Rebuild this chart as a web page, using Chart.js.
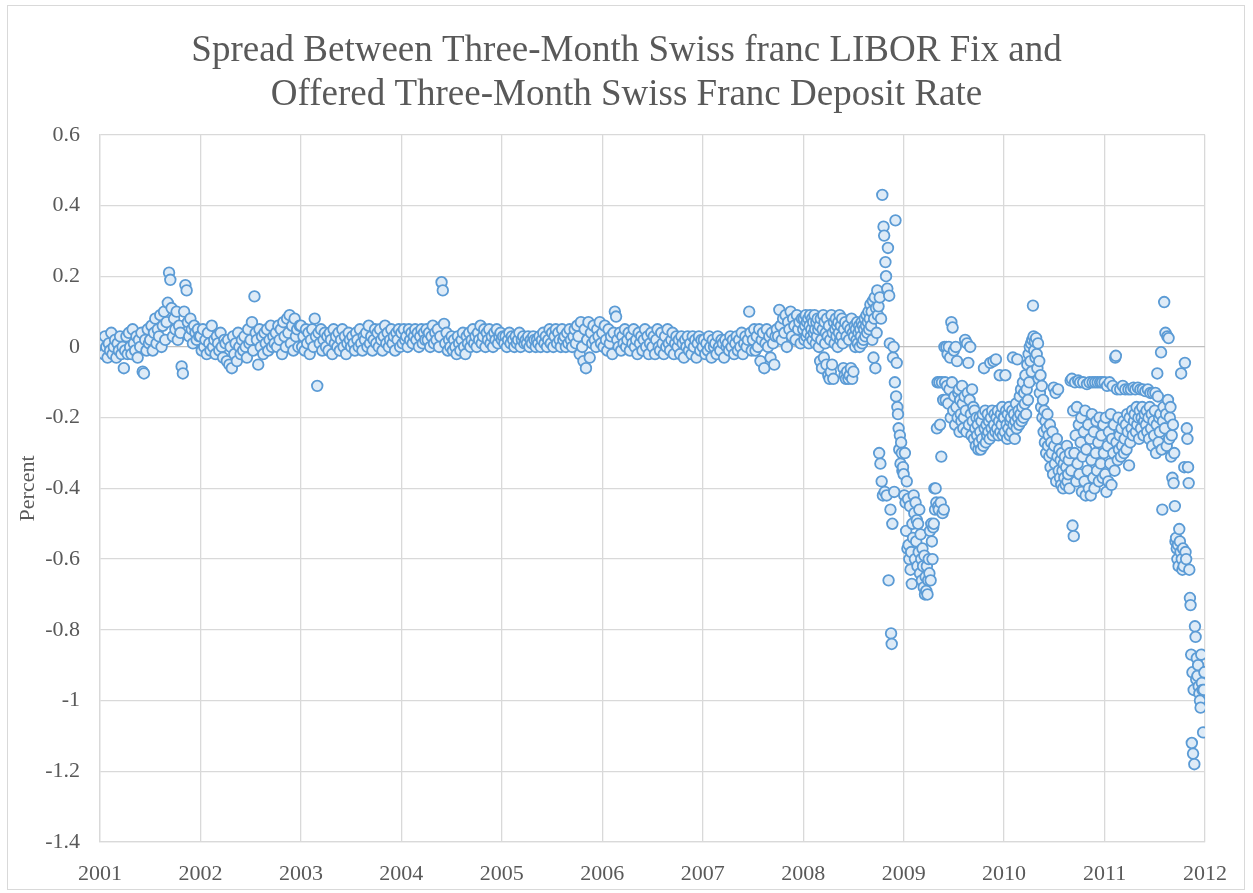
<!DOCTYPE html>
<html>
<head>
<meta charset="utf-8">
<title>Spread Between Three-Month Swiss franc LIBOR Fix and Offered Three-Month Swiss Franc Deposit Rate</title>
<script src="https://cdn.jsdelivr.net/npm/chart.js@4.4.1/dist/chart.umd.min.js"></script>
<style>
  html, body { margin: 0; padding: 0; background: #fff; }
  canvas { display: block; }
</style>
</head>
<body>
<canvas id="spreadChart" width="1253" height="893"></canvas>
<script>
// Chart text
const titleLines = ['Spread Between Three-Month Swiss franc LIBOR Fix and', 'Offered Three-Month Swiss Franc Deposit Rate'];
const yTitle = 'Percent';

// Spread values (percent), in date order; each year's points are spread evenly over that year
const v2001 = [
  0.02, -0.01, 0.01, -0.02, 0.03, 0.0, -0.03, 0.01, -0.01, 0.04, -0.02, 0.0, 0.02, -0.03, 0.01, -0.01, 0.03, -0.02, 0.0, -0.06,
  -0.01, 0.03, -0.02, 0.04, 0.0, -0.02, 0.05, 0.01, -0.01, 0.03, -0.03, 0.02, 0.0, 0.04, -0.07, -0.075, 0.02, -0.01, 0.05, 0.01,
  0.02, 0.06, -0.01, 0.04, 0.08, 0.01, 0.05, 0.03, 0.09, 0.0, 0.06, 0.1, 0.02, 0.07, 0.125, 0.21, 0.19, 0.11, 0.03, 0.08,
  0.05, 0.1, 0.02, 0.06, 0.04, -0.055, -0.075, 0.1, 0.175, 0.16, 0.07, 0.03, 0.08, 0.05, 0.01, 0.06, 0.04, 0.02, 0.05, 0.03
];
const v2002 = [
  0.03, -0.01, 0.05, 0.0, 0.02, -0.02, 0.04, 0.01, -0.01, 0.06, 0.0, 0.02, -0.02, 0.03, 0.01, -0.01, 0.04, 0.0, -0.03, 0.02,
  0.01, -0.04, 0.02, -0.05, 0.0, -0.06, 0.03, -0.02, 0.01, -0.04, 0.04, 0.0, -0.02, 0.02, -0.01, 0.03, 0.0, -0.03, 0.05, 0.01,
  0.02, 0.07, -0.01, 0.143, 0.04, 0.02, -0.05, 0.05, 0.0, 0.03, -0.02, 0.04, 0.01, 0.05, -0.01, 0.02, 0.06, 0.0, 0.03, 0.01,
  0.04, 0.0, 0.06, 0.02, 0.05, -0.02, 0.07, 0.03, 0.0, 0.08, 0.04, 0.09, 0.01, 0.06, -0.01, 0.08, 0.03, 0.05, 0.0, 0.06
];
const v2003 = [
  0.06, 0.0, 0.03, -0.01, 0.05, 0.01, 0.04, -0.02, 0.02, 0.05, 0.0, 0.08, 0.03, -0.11, 0.04, 0.01, 0.05, -0.01, 0.02, 0.04,
  0.0, 0.03, -0.01, 0.04, 0.02, -0.02, 0.05, 0.01, 0.03, 0.0, 0.04, -0.01, 0.02, 0.05, 0.0, 0.03, -0.02, 0.01, 0.04, 0.02,
  0.0, 0.03, 0.01, -0.01, 0.04, 0.02, 0.0, 0.05, 0.01, -0.01, 0.03, 0.02, 0.04, 0.0, 0.06, 0.01, 0.03, -0.01, 0.02, 0.05,
  0.01, 0.04, 0.0, 0.05, 0.02, -0.01, 0.03, 0.06, 0.01, 0.04, 0.0, 0.02, 0.05, 0.01, 0.03, -0.01, 0.04, 0.02, 0.05, 0.0
];
const v2004 = [
  0.04, 0.01, 0.05, 0.02, 0.03, 0.0, 0.05, 0.02, 0.04, 0.01, 0.03, 0.05, 0.02, 0.04, 0.0, 0.03, 0.05, 0.01, 0.04, 0.02,
  0.05, 0.02, 0.04, 0.0, 0.03, 0.06, 0.01, 0.04, 0.02, 0.05, 0.0, 0.03, 0.183, 0.16, 0.065, 0.01, 0.04, -0.01, 0.02, 0.0,
  0.03, -0.01, 0.02, 0.0, -0.02, 0.03, 0.01, -0.01, 0.02, 0.04, 0.0, -0.02, 0.03, 0.01, 0.04, 0.0, 0.02, 0.05, 0.01, 0.03,
  0.0, 0.04, 0.02, 0.06, 0.01, 0.03, 0.05, 0.0, 0.04, 0.02, 0.05, 0.01, 0.03, 0.0, 0.04, 0.02, 0.05, 0.01, 0.03, 0.04
];
const v2005 = [
  0.02, 0.03, 0.01, 0.03, 0.0, 0.02, 0.04, 0.01, 0.03, 0.02, 0.0, 0.03, 0.01, 0.02, 0.04, 0.0, 0.02, 0.03, 0.01, 0.02,
  0.01, 0.03, 0.0, 0.02, 0.01, 0.03, 0.02, 0.0, 0.02, 0.01, 0.03, 0.0, 0.02, 0.04, 0.01, 0.03, 0.0, 0.02, 0.05, 0.01,
  0.04, 0.0, 0.03, 0.05, 0.01, 0.04, 0.02, 0.0, 0.05, 0.02, 0.03, 0.0, 0.04, 0.01, 0.05, 0.02, 0.0, 0.03, 0.05, 0.01,
  0.06, 0.03, -0.02, 0.07, 0.0, -0.04, 0.05, -0.06, 0.02, 0.07, -0.03, 0.04, 0.01, 0.06, 0.02, 0.0, 0.05, 0.03, 0.07, 0.01
];
const v2006 = [
  0.04, 0.0, 0.06, 0.02, -0.01, 0.05, 0.01, 0.03, -0.02, 0.04, 0.1, 0.086, 0.02, 0.0, 0.04, -0.01, 0.03, 0.01, 0.05, 0.0,
  0.02, 0.04, -0.01, 0.03, 0.01, 0.05, 0.0, 0.02, -0.02, 0.04, 0.01, 0.03, -0.01, 0.02, 0.05, 0.0, 0.03, -0.02, 0.01, 0.04,
  0.0, 0.03, -0.02, 0.02, 0.05, 0.0, -0.01, 0.04, 0.01, -0.02, 0.03, 0.0, 0.05, 0.01, -0.01, 0.02, 0.04, -0.02, 0.01, 0.03,
  0.0, 0.02, -0.02, 0.03, 0.01, -0.03, 0.02, 0.0, 0.03, -0.01, 0.01, -0.02, 0.03, 0.0, 0.02, -0.03, 0.01, 0.03, -0.01, 0.02
];
const v2007 = [
  0.0, 0.02, -0.02, 0.01, -0.01, 0.03, 0.0, -0.03, 0.02, 0.0, 0.01, -0.02, 0.03, 0.0, -0.01, 0.02, 0.01, -0.03, 0.02, 0.0,
  0.01, -0.01, 0.03, 0.0, 0.02, -0.02, 0.01, 0.03, -0.01, 0.02, 0.0, 0.04, -0.02, 0.01, 0.03, 0.0, 0.02, 0.1, 0.04, -0.01,
  0.02, 0.05, -0.01, 0.03, 0.0, 0.05, -0.04, 0.02, 0.04, -0.06, 0.01, 0.05, 0.0, 0.03, -0.03, 0.04, 0.01, -0.05, 0.03, 0.05,
  0.03, 0.105, 0.06, 0.02, 0.08, 0.04, 0.09, 0.0, 0.07, 0.05, 0.1, 0.03, 0.08, 0.06, 0.02, 0.09, 0.05, 0.07, 0.01, 0.08
];
const v2008 = [
  0.05, 0.08, 0.02, 0.06, 0.09, 0.03, 0.07, 0.04, 0.08, 0.01, 0.06, 0.09, 0.03, 0.05, 0.08, 0.02, 0.07, 0.04, 0.09, 0.05,
  0.01, 0.07, 0.03, 0.08, 0.05, 0.0, 0.06, -0.04, 0.08, 0.02, -0.06, 0.05, 0.09, -0.03, 0.07, 0.01, 0.04, -0.05, 0.08, 0.03,
  -0.08, 0.06, -0.09, 0.02, -0.07, 0.09, -0.05, 0.04, -0.09, 0.07, 0.01, 0.05, 0.08, 0.03, 0.06, 0.0, 0.07, 0.04, 0.09, 0.02,
  0.06, 0.03, 0.08, 0.01, -0.06, 0.05, -0.08, 0.07, -0.09, 0.03, -0.07, 0.06, -0.09, 0.02, -0.08, 0.05, -0.06, 0.08, -0.09, 0.04,
  -0.07, 0.03, 0.06, 0.0, 0.05, 0.02, 0.07, 0.01, 0.04, 0.06, 0.0, 0.05, 0.03, 0.07, 0.01, 0.06, 0.02, 0.05, 0.08, 0.03,
  0.06, 0.09, 0.04, 0.07, 0.1, 0.05, 0.08, 0.12, 0.06, 0.1, 0.02, 0.13, -0.03, 0.08, 0.14, -0.06, 0.11, 0.04, 0.16, 0.09,
  0.115, -0.3, 0.14, -0.33, 0.08, -0.38, 0.43, -0.42, 0.34, 0.315, -0.41, 0.24, 0.2, -0.42, 0.165, 0.28, -0.66, 0.145, 0.01, -0.46,
  -0.81, -0.84, -0.5, -0.03, 0.0, -0.41, -0.1, 0.358, -0.14, -0.045, -0.17, -0.19, -0.23, -0.29, -0.25, -0.33, -0.27, -0.3, -0.35, -0.34
];
const v2009 = [
  -0.36, -0.42, -0.3, -0.44, -0.52, -0.38, -0.57, -0.43, -0.56, -0.6, -0.45, -0.63, -0.58, -0.67, -0.5, -0.54,
  -0.42, -0.47, -0.6, -0.44, -0.55, -0.49, -0.62, -0.5, -0.58, -0.46, -0.64, -0.53, -0.6, -0.66, -0.57, -0.62,
  -0.68, -0.59, -0.7, -0.65, -0.69, -0.62, -0.7, -0.66, -0.6, -0.64, -0.52, -0.66, -0.5, -0.55, -0.6, -0.51,
  -0.5, -0.4, -0.46, -0.4, -0.44, -0.23, -0.1, -0.45, -0.46, -0.1, -0.22, -0.44, -0.31, -0.1, -0.47, -0.15,
  -0.46, 0.0, -0.1, -0.15, 0.0, -0.11, -0.02, -0.16, 0.0, -0.12, -0.03, -0.2, 0.07, -0.1, 0.055, -0.18,
  -0.01, -0.14, -0.22, 0.0, -0.17, -0.04, -0.2, -0.13, -0.12, -0.24, -0.15, -0.19, -0.21, -0.11, -0.16, -0.23,
  -0.2, -0.14, 0.02, -0.18, -0.24, 0.01, -0.13, -0.045, -0.22, -0.15, 0.0, -0.19, -0.25, -0.12, -0.21, -0.17,
  -0.26, -0.18, -0.23, -0.28, -0.2, -0.25, -0.22, -0.29, -0.27, -0.2, -0.24, -0.29, -0.21, -0.26, -0.19, -0.28,
  -0.06, -0.23, -0.18, -0.27, -0.22, -0.25, -0.19, -0.24, -0.21, -0.26, -0.045, -0.2, -0.23, -0.18, -0.25, -0.04,
  -0.22, -0.19, -0.24, -0.035, -0.2, -0.23, -0.18, -0.25, -0.21, -0.08, -0.24, -0.19, -0.22, -0.17, -0.25, -0.2
];
const v2010 = [
  -0.2, -0.24, -0.08, -0.18, -0.22, -0.26, -0.19, -0.23, -0.17, -0.25, -0.21, -0.2, -0.24, -0.18, -0.03, -0.22,
  -0.19, -0.26, -0.21, -0.16, -0.23, -0.035, -0.2, -0.18, -0.22, -0.14, -0.19, -0.12, -0.21, -0.17, -0.1, -0.2,
  -0.13, -0.16, -0.08, -0.19, -0.12, -0.05, -0.15, -0.02, -0.1, 0.0, -0.04, 0.01, -0.07, 0.02, 0.117, 0.03,
  -0.01, 0.015, -0.03, 0.025, -0.02, -0.06, 0.01, -0.09, -0.04, -0.13, -0.08, -0.17, -0.11, -0.2, -0.15, -0.24,
  -0.18, -0.27, -0.21, -0.3, -0.23, -0.19, -0.28, -0.25, -0.31, -0.22, -0.34, -0.27, -0.3, -0.24, -0.36, -0.115,
  -0.28, -0.33, -0.13, -0.38, -0.26, -0.31, -0.12, -0.35, -0.29, -0.37, -0.32, -0.39, -0.3, -0.35, -0.4, -0.33,
  -0.37, -0.31, -0.39, -0.34, -0.28, -0.38, -0.36, -0.32, -0.4, -0.3, -0.095, -0.35, -0.09, -0.505, -0.18, -0.535,
  -0.3, -0.1, -0.25, -0.38, -0.17, -0.33, -0.095, -0.22, -0.36, -0.1, -0.27, -0.2, -0.41, -0.31, -0.1, -0.24,
  -0.38, -0.18, -0.42, -0.29, -0.105, -0.35, -0.22, -0.4, -0.1, -0.26, -0.42, -0.32, -0.19, -0.1, -0.37, -0.24,
  -0.4, -0.1, -0.3, -0.21, -0.35, -0.1, -0.27, -0.38, -0.2, -0.1, -0.33, -0.25, -0.1, -0.37, -0.22, -0.3
];
const v2011 = [
  -0.1, -0.36, -0.2, -0.41, -0.11, -0.28, -0.38, -0.24, -0.1, -0.33, -0.19, -0.39, -0.26, -0.11, -0.3, -0.22,
  -0.35, -0.03, -0.025, -0.27, -0.12, -0.32, -0.2, -0.29, -0.25, -0.12, -0.31, -0.23, -0.28, -0.11, -0.21, -0.3,
  -0.26, -0.12, -0.22, -0.29, -0.19, -0.24, -0.12, -0.335, -0.2, -0.27, -0.12, -0.23, -0.18, -0.25, -0.115, -0.21,
  -0.19, -0.12, -0.24, -0.17, -0.22, -0.115, -0.2, -0.26, -0.18, -0.12, -0.23, -0.2, -0.17, -0.12, -0.25, -0.21,
  -0.19, -0.125, -0.22, -0.18, -0.24, -0.12, -0.2, -0.26, -0.17, -0.13, -0.23, -0.19, -0.28, -0.13, -0.21, -0.25,
  -0.18, -0.13, -0.3, -0.22, -0.075, -0.14, -0.27, -0.2, -0.24, -0.19, -0.015, -0.29, -0.46, -0.21, -0.17, 0.127,
  -0.23, 0.04, -0.19, -0.28, 0.03, -0.15, 0.025, -0.26, -0.2, -0.17, -0.31, -0.25, -0.37, -0.22, -0.385, -0.3,
  -0.45, -0.55, -0.54, -0.57, -0.6, -0.56, -0.62, -0.515, -0.55, -0.58, -0.075, -0.6, -0.63, -0.57, -0.62, -0.34,
  -0.045, -0.58, -0.6, -0.23, -0.26, -0.34, -0.385, -0.63, -0.71, -0.73, -0.87, -1.12, -0.92, -1.15, -0.97, -1.18,
  -0.79, -0.82, -0.94, -0.88, -0.93, -0.9, -0.96, -0.98, -1.0, -1.02, -0.87, -0.95, -0.97, -1.09, -0.97, -0.92
];

const years = [2001, 2002, 2003, 2004, 2005, 2006, 2007, 2008, 2009, 2010, 2011];
const yearValues = [v2001, v2002, v2003, v2004, v2005, v2006, v2007, v2008, v2009, v2010, v2011];

const points = [];
years.forEach(function(yr, k) {
    const vals = yearValues[k];
    vals.forEach(function(v, i) {
        points.push({ x: yr + i / vals.length, y: v });
    });
});

const grey = '#595959';
const gridGrey = '#d9d9d9';
const serif = "'Liberation Serif', 'Times New Roman', serif";

// outer chart frame
const framePlugin = {
    id: 'frame',
    beforeDraw(chart) {
        const c = chart.ctx;
        c.save();
        c.fillStyle = '#ffffff';
        c.fillRect(0, 0, chart.width, chart.height);
        c.strokeStyle = gridGrey;
        c.lineWidth = 1;
        c.strokeRect(7.5, 5.5, 1237, 884);
        c.restore();
    }
};

new Chart(document.getElementById('spreadChart').getContext('2d'), {
    type: 'scatter',
    data: {
        datasets: [{
            label: 'Spread',
            data: points,
            pointRadius: 5.3,
            pointBorderWidth: 1.8,
            borderColor: '#5b9bd5',
            backgroundColor: '#deebf7',
            pointHoverRadius: 5.3
        }]
    },
    options: {
        responsive: false,
        animation: false,
        layout: { padding: { left: 10, right: 10, top: 8, bottom: 10 } },
        plugins: {
            legend: { display: false },
            tooltip: { enabled: false },
            title: {
                display: true,
                text: titleLines,
                color: grey,
                font: { family: serif, size: 37, weight: 'normal', lineHeight: 1.2 },
                padding: { top: 21, bottom: 17 }
            }
        },
        scales: {
            x: {
                type: 'linear',
                min: 2001,
                max: 2012,
                afterFit: function(s) { s.height = 41; },
                grid: { color: gridGrey, lineWidth: 1.3, drawTicks: false },
                border: { color: gridGrey, width: 1.3 },
                ticks: {
                    stepSize: 1,
                    padding: 19,
                    color: grey,
                    font: { family: serif, size: 22 },
                    callback: function(v) { return String(v); }
                }
            },
            y: {
                min: -1.4,
                max: 0.6,
                afterFit: function(s) { s.width = 90; },
                grid: {
                    drawTicks: false,
                    lineWidth: 1.3,
                    color: function(ctx) { return ctx.tick && ctx.tick.value === 0 ? '#bfbfbf' : gridGrey; }
                },
                border: { color: gridGrey, width: 1.3 },
                ticks: {
                    stepSize: 0.2,
                    padding: 20,
                    color: grey,
                    font: { family: serif, size: 22 },
                    callback: function(v) { return String(Math.round(v * 10) / 10); }
                },
                title: {
                    display: true,
                    text: yTitle,
                    color: grey,
                    font: { family: serif, size: 22 },
                    padding: { top: 5, bottom: 0 }
                }
            },
            // empty right-hand margin so the title centres on the whole frame
            yRight: {
                position: 'right',
                afterFit: function(s) { s.width = 38; },
                grid: { display: false },
                border: { display: false },
                ticks: { display: false }
            }
        }
    },
    plugins: [framePlugin]
});
</script>
</body>
</html>
